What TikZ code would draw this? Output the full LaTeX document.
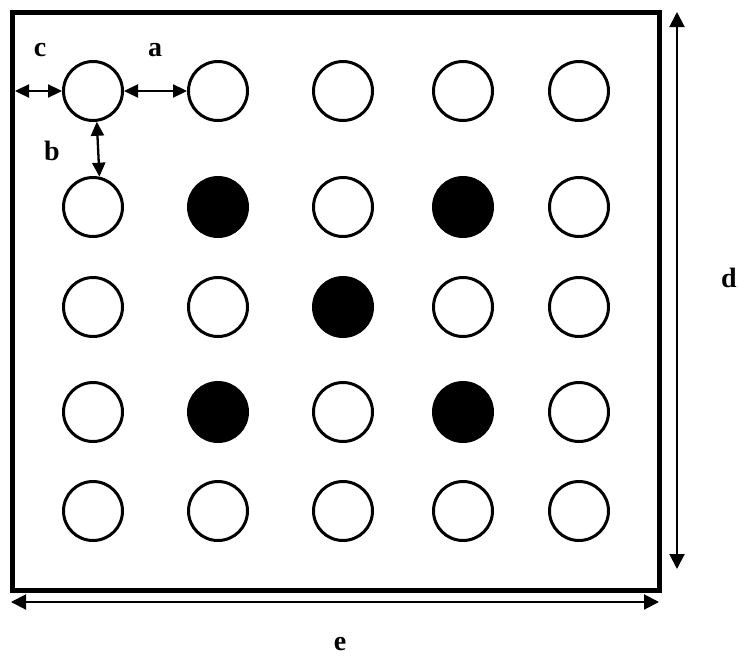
\documentclass[tikz,border=0pt]{standalone}
\usepackage{fontspec}
\setmainfont{Liberation Serif}
\usepackage{tikz}
\usetikzlibrary{arrows.meta, positioning}

\begin{document}
\begin{tikzpicture}[
                x=1pt, y=-1pt,
                ring/.style={
                    circle,
                    draw=black,
                    line width=3pt,
                    fill=white,
                    inner sep=0pt,
                    minimum size=59pt
                },
                dot/.style={ring, fill=black},
                frame/.style={line width=5pt, black},
                dim/.style={{Triangle[length=14pt,width=13pt]}-{Triangle[length=14pt,width=13pt]}, line width=2.3pt},
                longdim/.style={{Triangle[length=15pt,width=15pt]}-{Triangle[length=15pt,width=15pt]}, line width=2pt},
                lbl/.style={font=\bfseries\fontsize{28}{32}\selectfont, inner sep=0pt}
            ]

            \useasboundingbox (0,0) rectangle (739,659);

            % Frame
            \coordinate (frameNW) at (12.5,12.5);
            \coordinate (frameSE) at (659,590);
            \draw [frame] (frameNW) rectangle (frameSE);

            % Row 1
            \node (c11) [ring] at (93,91) {};
            \node (c12) [ring] at (218,91) {};
            \node (c13) [ring] at (343,91) {};
            \node (c14) [ring] at (463,91) {};
            \node (c15) [ring] at (579,91) {};

            % Row 2
            \node (c21) [ring] at (93,207) {};
            \node (c22) [dot] at (218,207) {};
            \node (c23) [ring] at (343,207) {};
            \node (c24) [dot] at (463,207) {};
            \node (c25) [ring] at (579,207) {};

            % Row 3
            \node (c31) [ring] at (93,307) {};
            \node (c32) [ring] at (218,307) {};
            \node (c33) [dot] at (343,307) {};
            \node (c34) [ring] at (463,307) {};
            \node (c35) [ring] at (579,307) {};

            % Row 4
            \node (c41) [ring] at (93,412) {};
            \node (c42) [dot] at (218,412) {};
            \node (c43) [ring] at (343,412) {};
            \node (c44) [dot] at (463,412) {};
            \node (c45) [ring] at (579,412) {};

            % Row 5
            \node (c51) [ring] at (93,511) {};
            \node (c52) [ring] at (218,511) {};
            \node (c53) [ring] at (343,511) {};
            \node (c54) [ring] at (463,511) {};
            \node (c55) [ring] at (579,511) {};

            % Dimension ends
            \coordinate (leftEdge) at (15,91);
            \coordinate (dTop) at (677,12);
            \coordinate (dBottom) at (677,569);
            \coordinate (eLeft) at (11,602);
            \coordinate (eRight) at (659,602);

            % Arrows
            \draw [dim] (leftEdge) -- (c11.west);
            \draw [dim] (c11.east) -- (c12.west);
            \draw [dim] (c11.-83) -- (c21.78);
            \draw [longdim] (dTop) -- (dBottom);
            \draw [longdim] (eLeft) -- (eRight);

            % Labels
            \node (lblC) [lbl] at (40,50) {c};
            \node (lblA) [lbl] at (155,50) {a};
            \node (lblB) [lbl] at (52,151) {b};
            \node (lblD) [lbl] at (729,278) {d};
            \node (lblE) [lbl] at (340,644) {e};

            \end{tikzpicture}
\end{document}
